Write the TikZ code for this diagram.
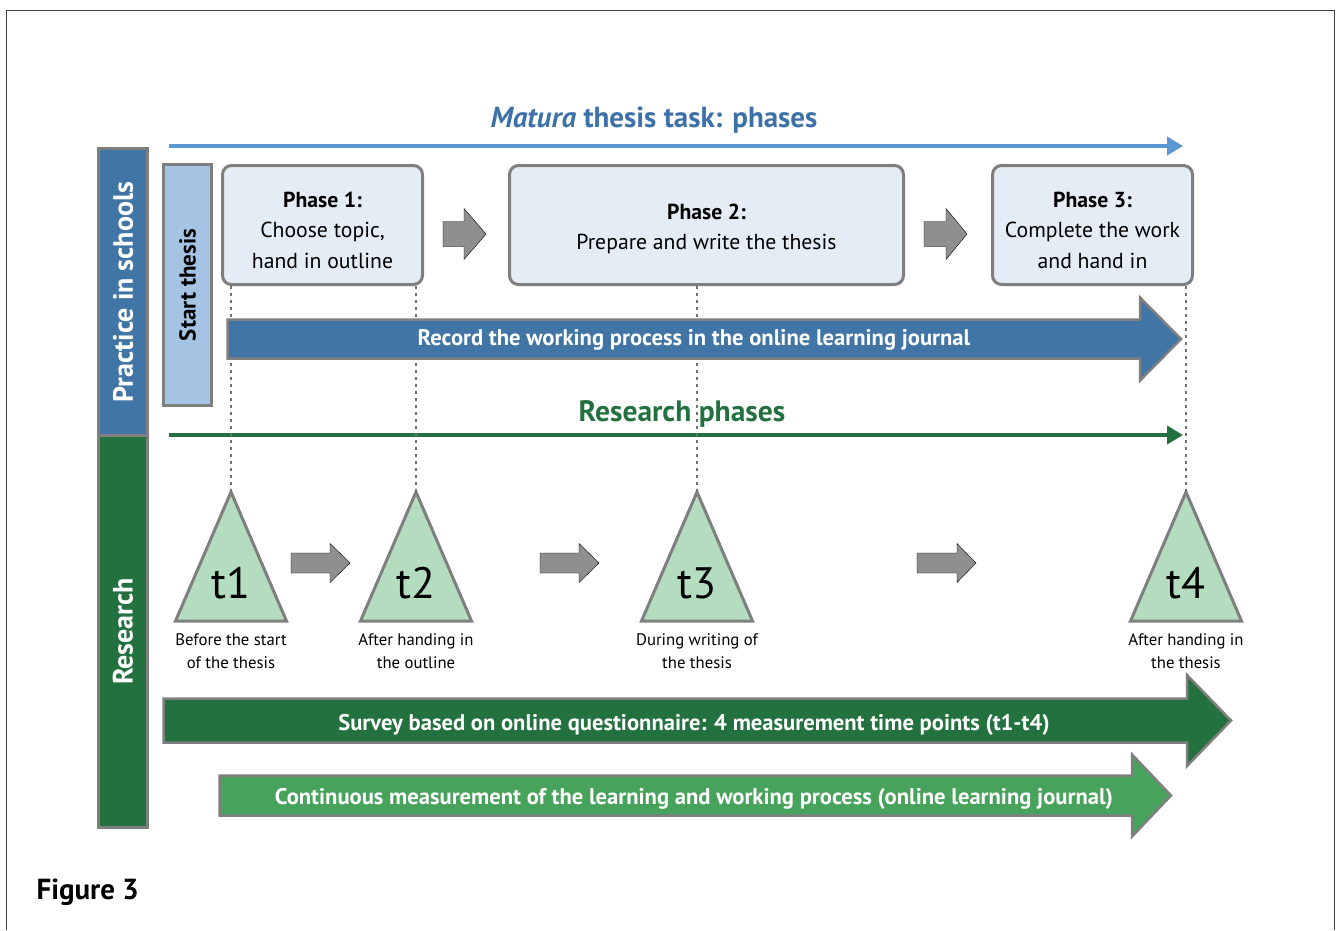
\documentclass[tikz,border=0pt]{standalone}
\usepackage{fontspec}
\setmainfont{PT Sans}
\usetikzlibrary{arrows.meta}

\definecolor{schoolblue}{HTML}{4175A5}
\definecolor{startblue}{HTML}{A5C3E3}
\definecolor{phasefill}{HTML}{E4ECF5}
\definecolor{titleblue}{HTML}{3D72A9}
\definecolor{lineblue}{HTML}{5B97D0}
\definecolor{researchgreen}{HTML}{23713F}
\definecolor{journalgreen}{HTML}{47A35B}
\definecolor{trifill}{HTML}{B3DDBE}
\definecolor{rim}{HTML}{7F7F7F}
\definecolor{stepgray}{HTML}{8F8F8F}

% block arrow: style, x start, x neck, x tip, y middle, half shaft, half head
\newcommand{\blockarrow}[7]{%
  \filldraw[#1] (#2,{#5-#6}) -- (#3,{#5-#6}) -- (#3,{#5-#7}) -- (#4,#5)
    -- (#3,{#5+#7}) -- (#3,{#5+#6}) -- (#2,{#5+#6}) -- cycle;}

\begin{document}
\begin{tikzpicture}[x=1pt,y=-1pt,
    bar/.style={draw=rim, line width=3pt, rotate=90, text=white, inner sep=0pt,
      font=\fontsize{28}{32}\selectfont\bfseries},
    phase/.style={draw=rim, fill=phasefill, line width=3pt, rounded corners=9pt,
      minimum height=119},
    phasetext/.style={align=center, font=\fontsize{21.7}{30.5}\selectfont},
    tri/.style={draw=rim, fill=trifill, line width=3pt, line join=miter},
    guide/.style={draw=rim!90!black, line width=1.8pt, dash pattern=on 3.5pt off 3.5pt},
    big/.style={draw=rim, line width=2.5pt, line join=miter},
    stepper/.style={fill=stepgray},
    inarrow/.style={text=white, font=\fontsize{22.6}{26}\selectfont\bfseries},
    caption/.style={align=center, font=\fontsize{16.7}{23}\selectfont}]
  \useasboundingbox (0,0) rectangle (1337,930);
  % outer frame, open at the bottom
  \draw[line width=1.5pt, black!75] (6.5,930) -- (6.5,10.5) -- (1334.5,10.5) -- (1334.5,930);

  % headings and time lines
  \node[anchor=base, text=titleblue, font=\fontsize{29}{34}\selectfont\bfseries] (title) at (654,127)
    {\textit{Matura} thesis task: phases};
  \draw[lineblue, line width=4.5pt, -{Triangle[length=16pt,width=18pt]}] (169,146) -- (1183,146);
  \node[anchor=base, text=researchgreen, font=\fontsize{29.5}{34}\selectfont\bfseries] (resph) at (682,421)
    {Research phases};
  \draw[researchgreen, line width=4.5pt, -{Triangle[length=16pt,width=18pt]}] (169,435) -- (1183,435);

  % side bars
  \node[bar, fill=schoolblue, minimum width=287, minimum height=49] (school) at (123,292)
    {Practice in schools};
  \node[bar, fill=researchgreen, minimum width=392, minimum height=49] (research) at (123,631.5)
    {Research};
  \node[bar, fill=startblue, text=black, minimum width=241, minimum height=48,
    font=\fontsize{23}{26}\selectfont\bfseries] (start) at (187.5,285) {Start thesis};

  % phases of the thesis task
  \node[phase, minimum width=200] (ph1) at (322.5,225) {};
  \node[phase, minimum width=394] (ph2) at (706.5,225) {};
  \node[phase, minimum width=200] (ph3) at (1092.5,225) {};
  \node[phasetext] (ph1text) at ([yshift=-5pt]ph1.center)
    {\textbf{Phase 1:}\\Choose topic,\\hand in outline};
  \node[phasetext] (ph2text) at ([yshift=-4pt]ph2.center)
    {\textbf{Phase 2:}\\Prepare and write the thesis};
  \node[phasetext] (ph3text) at ([yshift=-5pt]ph3.center)
    {\textbf{Phase 3:}\\Complete the work\\and hand in};
  \blockarrow{stepper}{443}{464}{486}{234}{12.5}{25.5}
  \blockarrow{stepper}{924}{946}{967}{234}{12.5}{25.5}

  % measurement time points
  \foreach \n/\x/\cap in {1/231/{Before the start\\of the thesis},
      2/416/{After handing in\\the outline},
      3/697/{During writing of\\the thesis},
      4/1186/{After handing in\\the thesis}} {
    \filldraw[tri] (\x,492) -- (\x+55.5,621) -- (\x-55.5,621) -- cycle;
    \coordinate (top\n) at (\x,492);
    \node[font=\fontsize{44}{48}\selectfont] (t\n) at (\x,583) {t\n};
    \node[caption] (c\n) at (\x,651.5) {\cap};
  }
  \blockarrow{stepper}{291}{330}{350}{563}{10}{19.5}
  \blockarrow{stepper}{540}{579}{599}{563}{10}{19.5}
  \blockarrow{stepper}{917}{957}{976}{563}{10}{19.5}

  % links from the phases down to the time points
  \draw[guide] (top1) -- (top1 |- ph1.south);
  \draw[guide] (top2) -- (top2 |- ph1.south);
  \draw[guide] (top3) -- (top3 |- ph2.south);
  \draw[guide] (top4) -- (top4 |- ph3.south);

  % long process arrows
  \blockarrow{big, fill=schoolblue}{227.5}{1140}{1181}{339}{19.5}{41.5}
  \node[inarrow] (journal) at (694,340)
    {Record the working process in the online learning journal};
  \blockarrow{big, fill=researchgreen}{163.5}{1187}{1231}{720.5}{22}{45.5}
  \node[inarrow] (survey) at (694,725)
    {Survey based on online questionnaire: 4 measurement time points (t1-t4)};
  \blockarrow{big, fill=journalgreen}{219.5}{1132}{1171}{795.5}{20}{41}
  \node[inarrow] (continuous) at (694,799)
    {Continuous measurement of the learning and working process (online learning journal)};

  \node[anchor=base west, font=\fontsize{29}{34}\selectfont\bfseries] (fig) at (33,899) {Figure 3};
\end{tikzpicture}
\end{document}
